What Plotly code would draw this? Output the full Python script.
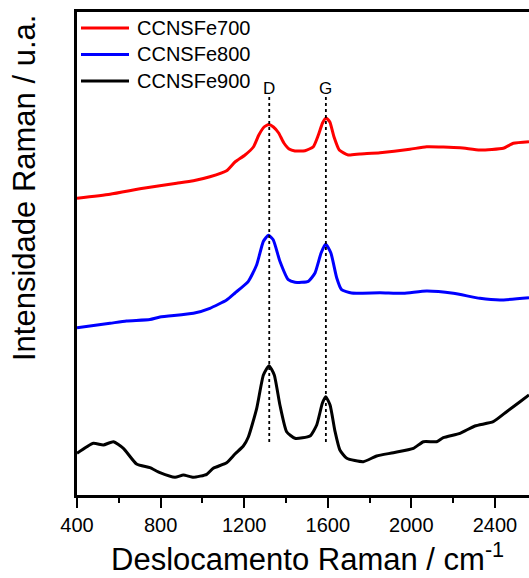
import plotly.graph_objects as go

# Raman shift (cm-1) and intensities (arbitrary units)
x_red = [400, 558, 717, 877, 957, 1036, 1116, 1156, 1204, 1244, 1270, 1295, 1318, 1340, 1365, 1390, 1415, 1443, 1491, 1531, 1555, 1575, 1592, 1610, 1630, 1655, 1698, 1754, 1850, 1993, 2073, 2233, 2328, 2440, 2488, 2563]
y_red = [296.7, 300.7, 306.7, 311.7, 314.3, 318.3, 324.3, 333, 340, 348, 360, 368, 370.5, 368, 362, 352, 346, 344, 344.3, 348.3, 360, 372, 377, 373, 358, 345, 340, 341, 342.3, 345.7, 348.3, 347.3, 345, 346.7, 351.7, 353.3]

x_blue = [400, 558, 637, 749, 797, 957, 1036, 1116, 1156, 1220, 1260, 1292, 1316, 1339, 1371, 1411, 1443, 1507, 1539, 1568, 1590, 1615, 1643, 1666, 1714, 1850, 1962, 2073, 2201, 2328, 2424, 2563]
y_blue = [167.3, 171.7, 174, 175.5, 178, 181.7, 186.7, 195, 202, 213.7, 230.3, 253.7, 259.7, 255.3, 233.7, 215.3, 212.7, 213.7, 222, 242, 251, 242, 217, 205.3, 202, 202.3, 201.7, 204, 201.7, 196.7, 195, 197.3]

x_black = [400, 478, 526, 574, 622, 685, 749, 797, 869, 909, 957, 1021, 1052, 1116, 1156, 1196, 1220, 1260, 1292, 1319, 1344, 1371, 1403, 1443, 1515, 1547, 1574, 1590, 1611, 1635, 1658, 1691, 1770, 1834, 1914, 2010, 2058, 2121, 2153, 2233, 2304, 2392, 2456, 2520, 2563]
y_black = [41.7, 51.7, 50, 53.3, 46.7, 31, 27.3, 22.3, 17.7, 20, 17.7, 20.7, 26.7, 32.3, 41, 49, 58, 86.7, 120, 129.3, 120, 90, 63.3, 56.7, 59, 70, 91.7, 98.3, 90, 63.3, 45, 36.7, 33.3, 39, 42.3, 46.7, 53.3, 53.3, 57.3, 61.7, 69, 73.3, 83.3, 93.3, 100]

series_names = ["CCNSFe700", "CCNSFe800", "CCNSFe900"]
series_colors = ["#ff0000", "#0000ff", "#000000"]
x_ticks = [400, 800, 1200, 1600, 2000, 2400]
D_pos, G_pos = 1320, 1591

FONT = "Liberation Sans, Arial, sans-serif"

fig = go.Figure()
for xs, ys, name, col in zip([x_red, x_blue, x_black], [y_red, y_blue, y_black], series_names, series_colors):
    fig.add_trace(go.Scatter(x=xs, y=ys, mode="lines", name=name,
                             line=dict(color=col, width=3, shape="spline", smoothing=0.5),
                             showlegend=False))

# dotted reference lines for D and G bands
for pos, lab in [(D_pos, "D"), (G_pos, "G")]:
    fig.add_shape(type="line", x0=pos, x1=pos, y0=53, y1=398, xref="x", yref="y",
                  line=dict(color="black", width=1.8, dash="dot"))
    fig.add_annotation(x=pos, y=407, xref="x", yref="y", text=lab, showarrow=False,
                       font=dict(family=FONT, size=17, color="black"),
                       xanchor="center", yanchor="middle")

# legend drawn as lines + text
PW, PH = 452, 483
for i, (name, col) in enumerate(zip(series_names, series_colors)):
    py = 28 + i * 26.5
    yp = (495 - py) / PH
    fig.add_shape(type="line", xref="paper", yref="paper",
                  x0=(81 - 77) / PW, x1=(129 - 77) / PW, y0=yp, y1=yp,
                  line=dict(color=col, width=3))
    fig.add_annotation(xref="paper", yref="paper", x=(135 - 77) / PW, y=yp, text=name,
                       showarrow=False, xanchor="left", yanchor="middle",
                       font=dict(family=FONT, size=20, color="black"))

# axis titles
fig.add_annotation(xref="paper", yref="paper", x=(307 - 77) / PW, y=(495 - 557) / PH,
                   text="Deslocamento Raman / cm<sup>-1</sup>", showarrow=False,
                   xanchor="center", yanchor="middle",
                   font=dict(family=FONT, size=31, color="black"))
fig.add_annotation(xref="paper", yref="paper", x=(24 - 77) / PW, y=(495 - 188) / PH,
                   text="Intensidade Raman / u.a.", showarrow=False, textangle=-90,
                   xanchor="center", yanchor="middle",
                   font=dict(family=FONT, size=31, color="black"))

fig.update_layout(
    width=529, height=578,
    margin=dict(l=77, r=0, t=12, b=83),
    plot_bgcolor="white", paper_bgcolor="white",
    font=dict(family=FONT, size=20, color="black"),
)
fig.update_xaxes(range=[400, 2563], tickvals=x_ticks, ticktext=[str(v) for v in x_ticks],
                 showgrid=False, zeroline=False, showline=True, linecolor="black", linewidth=3,
                 mirror=True, ticks="outside", ticklen=10, tickwidth=2, tickcolor="black",
                 tickfont=dict(family=FONT, size=20, color="black"),
                 minor=dict(ticks="outside", ticklen=5, tickwidth=2, tickcolor="black",
                            tickvals=[600, 1000, 1400, 1800, 2200]))
fig.update_yaxes(range=[0, 483], showgrid=False, zeroline=False, showline=True,
                 linecolor="black", linewidth=3, showticklabels=False, ticks="")

fig.write_html("out.html", config={"displayModeBar": False},
               post_script="document.body.style.margin='0px';document.body.style.overflow='hidden';")
